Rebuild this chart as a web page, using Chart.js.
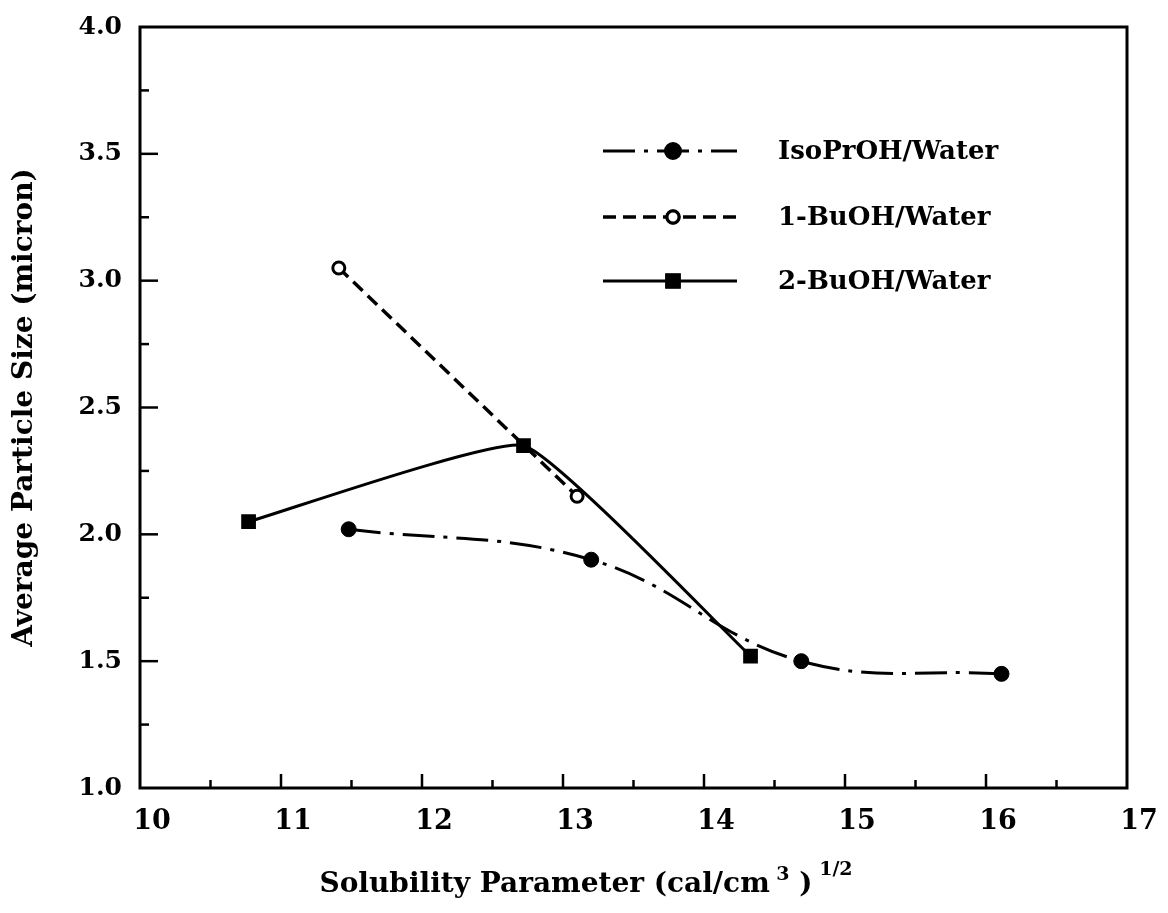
<!DOCTYPE html>
<html>
<head>
<meta charset="utf-8">
<script src="https://cdn.jsdelivr.net/npm/chart.js@4/dist/chart.umd.min.js"></script>
<style>
  html, body { margin: 0; padding: 0; background: #fff; }
  #wrap { width: 1168px; height: 913px; }
</style>
</head>
<body>
<div id="wrap"><canvas id="chart" width="1168" height="913"></canvas></div>
<script>
// ---- data ----
const seriesNames = ['IsoPrOH/Water', '1-BuOH/Water', '2-BuOH/Water'];

const isoPrX = [11.48, 13.20, 14.69, 16.11];
const isoPrY = [2.02, 1.90, 1.50, 1.45];

const buOH1X = [11.41, 13.10];
const buOH1Y = [3.05, 2.15];

const buOH2X = [10.77, 12.72, 14.33];
const buOH2Y = [2.05, 2.35, 1.52];

const xTicks = [10, 11, 12, 13, 14, 15, 16, 17];
const yTicks = [1.0, 1.5, 2.0, 2.5, 3.0, 3.5, 4.0];

const FONT = "'DejaVu Serif', 'Liberation Serif', serif";
const INK = '#000';

const toPoints = (xs, ys) => xs.map((x, i) => ({ x: x, y: ys[i] }));

// inward ticks + box frame
const frame = {
  id: 'frame',
  afterDraw(chart) {
    const { ctx, chartArea: a, scales } = chart;
    ctx.save();
    ctx.strokeStyle = INK;
    ctx.lineWidth = 3;
    ctx.strokeRect(a.left, a.top, a.right - a.left, a.bottom - a.top);

    ctx.lineWidth = 2.5;
    scales.x.ticks.forEach(t => {
      if (t.value <= scales.x.min || t.value >= scales.x.max) return;
      const px = scales.x.getPixelForValue(t.value);
      const len = xTicks.includes(t.value) ? 14 : 8;
      ctx.beginPath();
      ctx.moveTo(px, a.bottom);
      ctx.lineTo(px, a.bottom - len);
      ctx.stroke();
    });
    scales.y.ticks.forEach(t => {
      if (t.value <= scales.y.min || t.value >= scales.y.max) return;
      const py = scales.y.getPixelForValue(t.value);
      const major = yTicks.some(v => Math.abs(v - t.value) < 1e-6);
      ctx.beginPath();
      ctx.moveTo(a.left, py);
      ctx.lineTo(a.left + (major ? 18 : 9), py);
      ctx.stroke();
    });
    ctx.restore();
  }
};

// legend inside plot
const legendBox = {
  id: 'legendBox',
  afterDraw(chart) {
    const { ctx, chartArea: a } = chart;
    const x0 = a.left + 463, x1 = a.left + 597, xm = a.left + 533;
    const tx = a.left + 638;
    const rows = [a.top + 124, a.top + 190, a.top + 254];
    ctx.save();
    chart.data.datasets.forEach((ds, i) => {
      const y = rows[i];
      ctx.strokeStyle = INK;
      ctx.lineWidth = ds.borderWidth;
      ctx.setLineDash(ds.borderDash || []);
      ctx.beginPath();
      ctx.moveTo(x0, y);
      ctx.lineTo(x1, y);
      ctx.stroke();
      ctx.setLineDash([]);
      Chart.helpers.drawPoint(ctx, {
        pointStyle: ds.pointStyle,
        radius: ds.pointRadius,
        borderWidth: ds.pointBorderWidth
      }, xm, y);
      ctx.fillStyle = ds.pointBackgroundColor;
      ctx.strokeStyle = INK;
      ctx.lineWidth = ds.pointBorderWidth;
      ctx.fill();
      ctx.stroke();
      ctx.fillStyle = INK;
      ctx.font = 'bold 26px ' + FONT;
      ctx.textBaseline = 'middle';
      ctx.textAlign = 'left';
      ctx.fillText(ds.label, tx, y + 1);
    });
    ctx.restore();
  }
};

// x axis title with superscripts
const xTitle = {
  id: 'xTitle',
  afterDraw(chart) {
    const { ctx } = chart;
    const y = 892;
    const big = 'bold 28px ' + FONT;
    const small = 'bold 19px ' + FONT;
    const parts = [
      { t: 'Solubility Parameter (cal/cm', f: big, dy: 0 },
      { t: ' 3', f: small, dy: -12 },
      { t: ' )', f: big, dy: 0 },
      { t: ' 1/2', f: small, dy: -17 }
    ];
    ctx.save();
    ctx.fillStyle = INK;
    ctx.textBaseline = 'alphabetic';
    let total = 0;
    parts.forEach(p => { ctx.font = p.f; total += ctx.measureText(p.t).width; });
    let x = 586 - total / 2;
    parts.forEach(p => {
      ctx.font = p.f;
      ctx.fillText(p.t, x, y + p.dy);
      x += ctx.measureText(p.t).width;
    });
    ctx.restore();
  }
};

new Chart(document.getElementById('chart'), {
  type: 'line',
  data: {
    datasets: [
      {
        label: seriesNames[0],
        data: toPoints(isoPrX, isoPrY),
        borderColor: INK,
        borderWidth: 3,
        borderDash: [32, 9, 4, 9],
        tension: 0.4,
        pointStyle: 'circle',
        pointRadius: 7.5,
        pointBorderWidth: 1,
        pointBackgroundColor: INK,
        pointBorderColor: INK
      },
      {
        label: seriesNames[1],
        data: toPoints(buOH1X, buOH1Y),
        borderColor: INK,
        borderWidth: 3.5,
        borderDash: [13, 7],
        tension: 0,
        pointStyle: 'circle',
        pointRadius: 6,
        pointBorderWidth: 3,
        pointBackgroundColor: '#fff',
        pointBorderColor: INK
      },
      {
        label: seriesNames[2],
        data: toPoints(buOH2X, buOH2Y),
        borderColor: INK,
        borderWidth: 3,
        borderDash: [],
        tension: 0.12,
        pointStyle: 'rect',
        pointRadius: 9,
        pointBorderWidth: 2,
        pointBackgroundColor: INK,
        pointBorderColor: INK
      }
    ]
  },
  options: {
    responsive: false,
    animation: false,
    layout: { padding: { left: 0, right: 41, top: 27, bottom: 0 } },
    plugins: {
      legend: { display: false },
      tooltip: { enabled: false }
    },
    scales: {
      x: {
        type: 'linear',
        min: 10,
        max: 17,
        grid: { display: false, drawTicks: false },
        border: { display: false },
        afterFit: s => { s.height = 125; },
        ticks: {
          stepSize: 0.5,
          padding: 18,
          labelOffset: 12,
          color: INK,
          autoSkip: false,
          maxRotation: 0,
          font: { family: FONT, size: 27, weight: 'bold' },
          callback: v => (xTicks.includes(v) ? String(v) : '')
        }
      },
      y: {
        type: 'linear',
        min: 1,
        max: 4,
        grid: { display: false, drawTicks: false },
        border: { display: false },
        afterFit: s => { s.width = 140; s.paddingTop = 0; },
        title: {
          display: true,
          text: 'Average Particle Size (micron)',
          color: INK,
          padding: { top: 8, bottom: 10 },
          font: { family: FONT, size: 28, weight: 'bold' }
        },
        ticks: {
          stepSize: 0.25,
          padding: 18,
          color: INK,
          autoSkip: false,
          font: { family: FONT, size: 25, weight: 'bold' },
          callback: v => (yTicks.some(t => Math.abs(t - v) < 1e-6) ? v.toFixed(1) : '')
        }
      }
    }
  },
  plugins: [frame, legendBox, xTitle]
});
</script>
</body>
</html>
